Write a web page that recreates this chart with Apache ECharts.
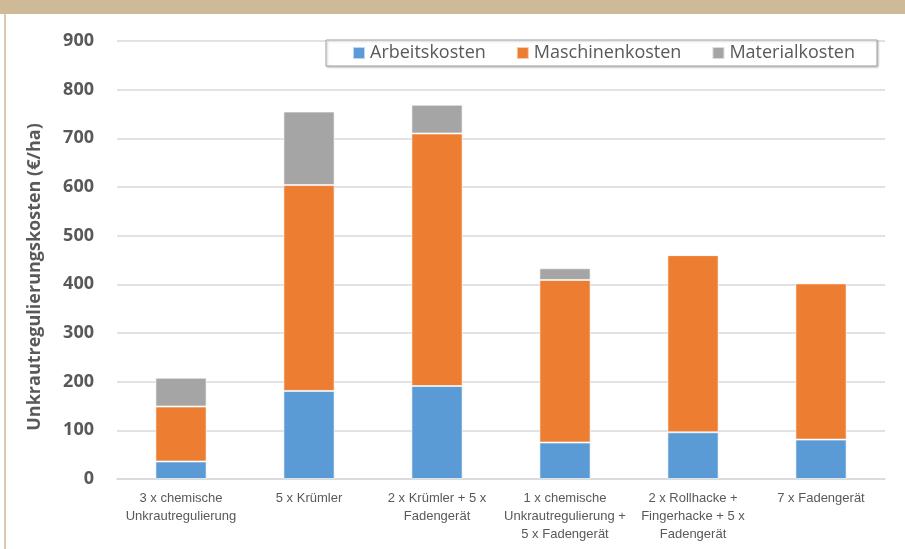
<!DOCTYPE html>
<html>
<head>
<meta charset="utf-8">
<script src="https://cdn.jsdelivr.net/npm/echarts@6/dist/echarts.min.js"></script>
<style>
  html, body { margin: 0; padding: 0; background: #fff; }
  #frame { position: absolute; left: 0; top: 0; width: 905px; height: 549px; background: #fff; }
  #band { position: absolute; left: 0; top: 0; width: 905px; height: 14px; background: #cfba98; }
  #side { position: absolute; left: 4px; top: 14px; width: 2px; height: 535px; background: #dccab0; }
  #chart { position: absolute; left: 0; top: 0; width: 905px; height: 549px; }
</style>
</head>
<body>
<div id="frame">
  <div id="chart"></div>
  <div id="band"></div>
  <div id="side"></div>
</div>
<script>
const categories = [
    '3 x chemische\nUnkrautregulierung',
    '5 x Krümler',
    '2 x Krümler + 5 x\nFadengerät',
    '1 x chemische\nUnkrautregulierung +\n5 x Fadengerät',
    '2 x Rollhacke +\nFingerhacke + 5 x\nFadengerät',
    '7 x Fadengerät'
];
const arbeitskosten = [36, 181, 191, 75, 96, 81];
const maschinenkosten = [113, 423, 519, 334, 364, 321];
const materialkosten = [59, 151, 59, 24, 0, 0];
const yTicks = [0, 100, 200, 300, 400, 500, 600, 700, 800, 900];
const yTitle = 'Unkrautregulierungskosten (€/ha)';

let chartDom = document.getElementById('chart');
let myChart = echarts.init(chartDom);

function barSeries(name, data, color) {
    return {
        name: name,
        type: 'bar',
        stack: 'kosten',
        data: data,
        barWidth: '40%',
        itemStyle: {
            color: color,
            borderColor: 'rgba(255,255,255,0.6)',
            borderWidth: 1
        },
        emphasis: { disabled: true }
    };
}

let option = {
    animation: false,
    textStyle: { fontFamily: 'Open Sans' },
    grid: { left: 117, right: 20, top: 41, bottom: 70 },
    legend: {
        top: 40,
        left: 326,
        padding: [4, 22, 4, 26],
        itemGap: 30,
        itemWidth: 12,
        itemHeight: 12,
        icon: 'rect',
        borderColor: '#a6a6a6',
        borderWidth: 1,
        backgroundColor: '#fff',
        shadowColor: 'rgba(0,0,0,0.25)',
        shadowBlur: 2,
        shadowOffsetX: 1,
        shadowOffsetY: 1,
        textStyle: { fontSize: 18, color: '#595959', fontFamily: 'Open Sans' },
        data: ['Arbeitskosten', 'Maschinenkosten', 'Materialkosten']
    },
    graphic: [{
        type: 'text',
        x: 35,
        y: 277,
        rotation: Math.PI / 2,
        style: {
            text: yTitle,
            fill: '#595959',
            font: 'bold 18px "Open Sans"',
            align: 'center',
            verticalAlign: 'middle'
        }
    }],
    xAxis: {
        type: 'category',
        data: categories,
        axisLine: { lineStyle: { color: '#d9d9d9', width: 1.5 } },
        axisTick: { show: false },
        axisLabel: {
            color: '#595959',
            fontSize: 13,
            fontFamily: '"Liberation Sans Narrow", "Arial Narrow", "Liberation Sans"',
            lineHeight: 18,
            margin: 10,
            interval: 0
        }
    },
    yAxis: {
        type: 'value',
        min: yTicks[0],
        max: yTicks[yTicks.length - 1],
        interval: 100,
        axisLine: { show: false },
        axisTick: { show: false },
        axisLabel: { color: '#595959', fontSize: 18, fontWeight: 'bold', margin: 23, fontFamily: 'Open Sans' },
        splitLine: { lineStyle: { color: '#d9d9d9', width: 1.5 } }
    },
    series: [
        barSeries('Arbeitskosten', arbeitskosten, '#5b9bd5'),
        barSeries('Maschinenkosten', maschinenkosten, '#ed7d31'),
        barSeries('Materialkosten', materialkosten, '#a5a5a5')
    ]
};
option && myChart.setOption(option);
</script>
</body>
</html>
